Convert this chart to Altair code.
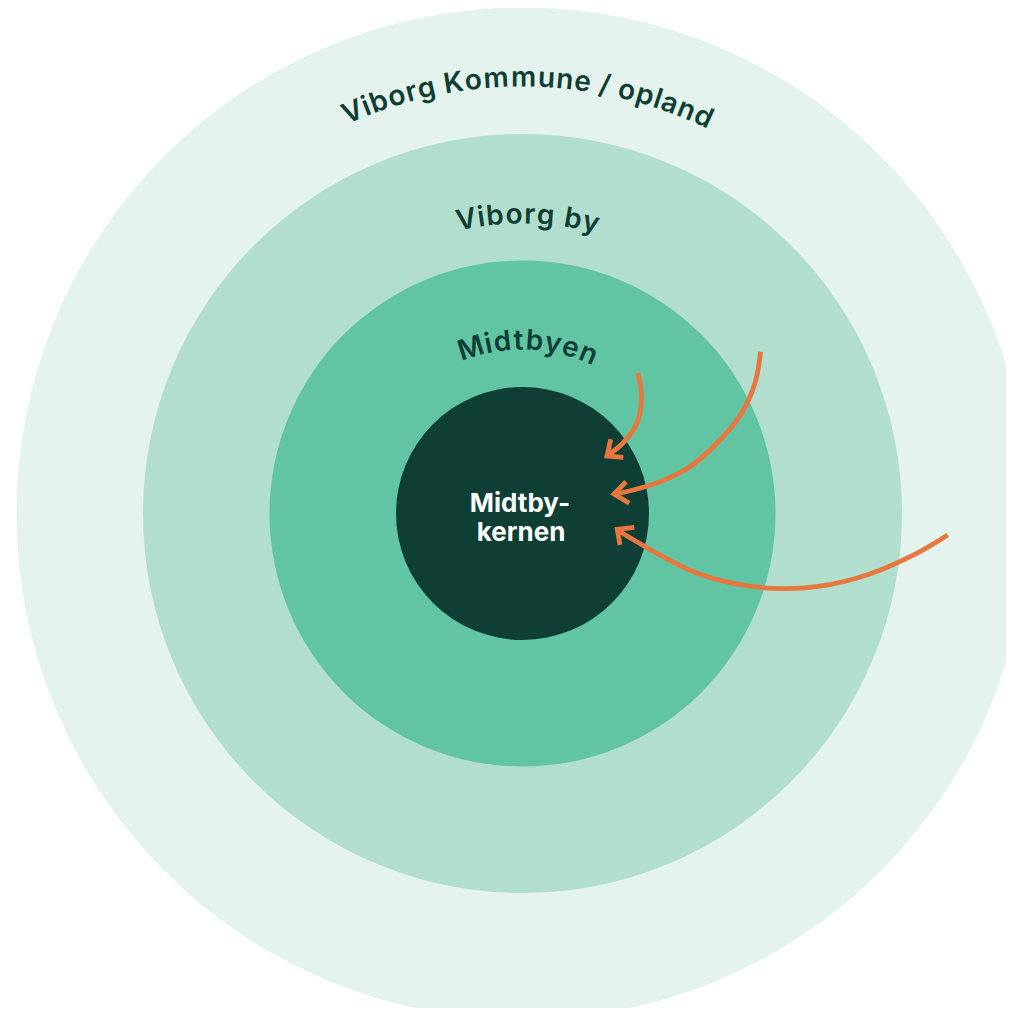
import math
import altair as alt
import pandas as pd

# ---------------- data ----------------
ring_names = ["Viborg Kommune / opland", "Viborg by", "Midtbyen", "Midtbykernen"]
ring_radius = [506, 379.5, 253, 126.5]
ring_colors = ["#e4f3ee", "#b2decd", "#61c4a3", "#0f3e34"]
center_x, center_y = 522.5, 513.5

label_texts = ["Viborg Kommune / opland", "Viborg by", "Midtbyen"]
label_radius = [427, 290, 164]
label_start_deg = [-24.3, -12.9, -21.9]
label_end_deg = [25.8, 14.9, 25.7]

core_lines = ["Midtby-", "kernen"]
core_x = [520, 521]
core_y = [512, 541]

# arrows (shaft points, arrowhead arm-tip-arm)
arrow1_x = [638, 641.5, 637, 623, 608]
arrow1_y = [373, 398, 423, 443, 455]
head1_x = [610.7, 607, 623.3]
head1_y = [439.3, 456, 457.3]

arrow2_x = [760.7, 755, 741.7, 720, 690, 656.7, 616]
arrow2_y = [351.7, 383, 413, 440, 466.7, 483, 494]
head2_x = [626, 614, 629.3]
head2_y = [481.7, 494, 503.3]

arrow3_x = [947.7, 916.7, 866.7, 816.7, 773.3, 733.3, 693.3, 660, 620]
arrow3_y = [535, 553.3, 575, 586.7, 588.3, 583.3, 571.7, 555, 531.7]
head3_x = [634.3, 617.3, 620]
head3_y = [527.3, 529.3, 545]

TEXT_DARK = "#0f3e34"
ORANGE = "#e8773f"
FONT = "Inter"

# ---------------- tables ----------------
rings = pd.DataFrame({
    "name": ring_names, "r": ring_radius, "color": ring_colors,
    "x": [center_x] * 4, "y": [center_y] * 4,
})

char_w = {"V": .69, "i": .26, "b": .62, "o": .61, "r": .39, "g": .62, " ": .26,
          "K": .68, "m": .90, "u": .60, "n": .60, "e": .58, "/": .36, "p": .62,
          "l": .26, "a": .57, "d": .62, "y": .55, "M": .86, "t": .38}

rows = []
for text, rad, a0, a1 in zip(label_texts, label_radius, label_start_deg, label_end_deg):
    widths = [char_w.get(c, .6) for c in text]
    total = sum(widths)
    cum = 0
    for c, w in zip(text, widths):
        f = (cum + w / 2) / total
        cum += w
        if c == " ":
            continue
        phi = a0 + f * (a1 - a0)
        rows.append({
            "ch": c,
            "x": center_x + rad * math.sin(math.radians(phi)),
            "y": center_y - rad * math.cos(math.radians(phi)),
            "ang": (phi + 360) % 360,
        })
chars = pd.DataFrame(rows)

core = pd.DataFrame({"t": core_lines, "x": core_x, "y": core_y})

shaft_rows = []
for k, (xs, ys) in enumerate([(arrow1_x, arrow1_y), (arrow2_x, arrow2_y), (arrow3_x, arrow3_y)]):
    for i, (a, b) in enumerate(zip(xs, ys)):
        shaft_rows.append({"arrow": k, "i": i, "x": a, "y": b})
shafts = pd.DataFrame(shaft_rows)

head_rows = []
for k, (xs, ys) in enumerate([(head1_x, head1_y), (head2_x, head2_y), (head3_x, head3_y)]):
    for i, (a, b) in enumerate(zip(xs, ys)):
        head_rows.append({"arrow": k, "i": i, "x": a, "y": b})
heads = pd.DataFrame(head_rows)

# ---------------- chart ----------------
X = alt.X("x:Q", scale=alt.Scale(domain=[8, 1006], nice=False, zero=False), axis=None)
Y = alt.Y("y:Q", scale=alt.Scale(domain=[8, 1008], nice=False, zero=False, reverse=True), axis=None)

circles = alt.Chart(rings).mark_circle(opacity=1, strokeWidth=0).transform_calculate(
    s="4*datum.r*datum.r"
).encode(
    x=X, y=Y,
    size=alt.Size("s:Q", scale=None, legend=None),
    color=alt.Color("color:N", scale=None),
    order=alt.Order("r:Q", sort="descending"),
)

labels = alt.Chart(chars).mark_text(
    font=FONT, fontSize=28, fontWeight=600, color=TEXT_DARK,
    align="center", baseline="alphabetic",
).encode(
    x=X, y=Y, text="ch:N", angle=alt.Angle("ang:Q", scale=None),
)

core_text = alt.Chart(core).mark_text(
    font=FONT, fontSize=26, fontWeight=700, color="white",
    align="center", baseline="alphabetic",
).encode(x=X, y=Y, text="t:N")

shaft_lines = alt.Chart(shafts).mark_line(
    color=ORANGE, strokeWidth=4.8, interpolate="catmull-rom", strokeCap="butt",
).encode(x=X, y=Y, detail="arrow:N", order="i:Q")

head_lines = alt.Chart(heads).mark_line(
    color=ORANGE, strokeWidth=4.8, strokeCap="butt", strokeJoin="miter",
).encode(x=X, y=Y, detail="arrow:N", order="i:Q")

chart = alt.layer(circles, labels, core_text, shaft_lines, head_lines).properties(
    width=998, height=1000,
    autosize=alt.AutoSizeParams(type="none"),
    padding=0,
    background="white",
).configure_view(stroke=None)

chart.save("out.html", embed_options={"renderer": "svg", "actions": False})
